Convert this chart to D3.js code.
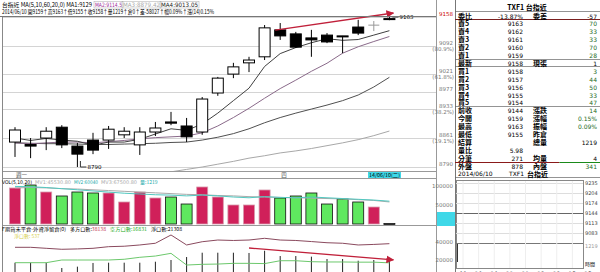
<!DOCTYPE html>
<html>
<head>
<meta charset="utf-8">
<script src="https://cdn.jsdelivr.net/npm/d3@7"></script>
<style>
  body { margin: 0; background: #fff; }
  svg { display: block; }
</style>
</head>
<body>
<div id="chart"></div>
<script>
// daily bars, TXF1 2014/05/06 - 2014/06/10
const dates = ['05/06','05/07','05/08','05/09','05/12','05/13','05/14','05/15','05/16','05/19',
  '05/20','05/21','05/22','05/23','05/26','05/27','05/28','05/29','05/30','06/03',
  '06/04','06/05','06/06','06/09','06/10'];
const open  = [8852,8846,8862,8889,8842,8857,8857,8870,8845,8877,8902,8892,8877,8974,9021,9049,9064,9131,9121,9111,9118,9116,9138,9144,9159];
const high  = [8889,8862,8889,8894,8850,8875,8892,8889,8889,8902,8927,8912,8964,9014,9049,9064,9143,9148,9126,9131,9123,9116,9156,9153,9163];
const low   = [8815,8812,8832,8837,8790,8822,8835,8862,8820,8867,8894,8852,8870,8967,9011,9026,9056,9106,9086,9064,9098,9073,9118,9128,9155];
const close = [8882,8842,8879,8845,8822,8832,8884,8879,8877,8887,8899,8865,8959,9011,9039,9056,9136,9116,9088,9106,9101,9115,9123,9144,9158];

const ma5  = [8862,8856,8861,8857,8854,8844,8852,8852,8859,8872,8885,8881,8897,8924,8955,8986,9040,9072,9087,9099,9109,9105,9107,9118,9129];
const ma10 = [8850,8848,8850,8852,8852,8850,8853,8856,8860,8863,8865,8867,8875,8892,8913,8936,8961,8985,9006,9028,9048,9073,9089,9102,9114.5];
const ma20 = [8850,8849,8848,8848,8847,8846,8846,8847,8848,8849,8851,8852,8857,8864,8873,8885,8900,8913,8924,8934,8944,8955,8969,8989,9013.05];
const ma60 = [8750,8752,8754,8756,8758,8760,8763,8766,8769,8773,8778,8784,8790,8797,8804,8812,8818,8825,8830,8836,8843,8850,8858,8868,8879.42];

const volume = [94700,102600,84200,73700,84200,81600,81600,57900,84200,68400,71000,52600,97400,71000,50000,50000,89500,68400,73700,81600,52600,65800,57900,44700,1219];
const volMa1 = [99000,98000,96000,93000,90000,87000,84000,81000,79000,77000,76000,74000,76000,74000,71000,69000,72000,70000,69000,71000,69000,67000,65000,63000,60000];
const volMa2 = [95000,96000,95000,93000,92000,90000,88000,86000,84000,82000,80000,78000,77000,75000,74000,72000,71000,70000,69000,68000,67000,66000,64000,62000,58000];

// 外資期貨未平倉
const longOI  = [34100,34100,33000,31900,32300,33000,34800,35300,36700,38600,47800,36700,40300,42200,41700,42200,44100,42200,41700,40500,39200,38600,36700,37300,38138];
const shortOI = [17000,17000,17000,20000,20000,20000,20000,20800,23000,24400,27400,14400,15200,15500,16300,16300,16000,19200,19200,18100,17800,17800,17600,17600,16831];
const netOI   = [17000,17000,17000,11100,12600,16700,17000,17000,17000,18100,20000,23300,28100,28100,28100,27800,30300,24400,24400,23700,21100,21100,19200,20000,21308];

// golden section levels on the price axis
const fibLevels = [9163, 9092, 9021, 8977, 8933, 8861, 8790];
const fibNames  = ['', '(80.9%)', '(61.8%)', '', '(38.2%)', '(19.1%)', ''];

// quote board
const rowLeft  = ['委比','賣5','賣4','賣3','賣2','賣1','最新','買1','買2','買3','買4','買5','前收','今開','最高','最低','結算','量比','分筆','外盤'];
const rowVal   = ['-13.87%','9163','9162','9161','9160','9159','9158','9158','9157','9156','9155','9154','9144','9159','9163','9155','','5.98','271','878'];
const rowLeft2 = ['委差','','','','','','現張','','','','','','漲跌','漲幅','振幅','昨倉','總量','','均量','內盤'];
const rowVal2  = ['-57','70','33','33','70','28','1','3','44','50','33','47','14','0.15%','0.09%','','1219','','4','341'];

// intraday mini chart
const miniPrice = [9235, 9204, 9174, 9144, 9113, 9083];
const miniTimes = ['09','10','10','11','11','12','12','13','13'];

const W = 600, H = 272;
const svg = d3.select('#chart').append('svg')
  .attr('width', W).attr('height', H)
  .style('font-family', '"DejaVu Sans", sans-serif');

const CJK = '"Noto Sans CJK TC", sans-serif';
const plotL = 3, plotR = 436;

const x = d3.scaleBand().domain(dates).range([7.2, 397.2]);
const cx = d => x(d) + x.bandwidth() / 2;
const bw = 11;

// ---------- main price panel ----------
const y = d3.scaleLinear().domain([8790, 9163]).range([167, 17]);

const defs = svg.append('defs');
defs.append('clipPath').attr('id', 'clipMain')
  .append('rect').attr('x', plotL).attr('y', 15).attr('width', plotR - plotL).attr('height', 156);

// frame lines
svg.append('line').attr('x1', plotL - 0.5).attr('x2', plotL - 0.5).attr('y1', 16).attr('y2', H).attr('stroke', '#888');
svg.append('line').attr('x1', plotR + 0.5).attr('x2', plotR + 0.5).attr('y1', 0).attr('y2', H).attr('stroke', '#999');

svg.append('g').selectAll('line').data(fibLevels).join('line')
  .attr('x1', plotL).attr('x2', plotR)
  .attr('y1', d => Math.round(y(d)) + 0.5).attr('y2', d => Math.round(y(d)) + 0.5)
  .attr('stroke', '#d4d4d4');

const axisLab = svg.append('g').style('font-size', '5.5px').attr('fill', '#777').attr('text-anchor', 'end');
fibLevels.forEach((v, i) => {
  if (i === 0) return;
  axisLab.append('text').attr('x', 453).attr('y', y(v) - 1).text(v);
  if (fibNames[i]) axisLab.append('text').attr('x', 454).attr('y', y(v) + 5).text(fibNames[i]);
});
axisLab.append('text').attr('x', 453).attr('y', 16).attr('fill', '#c00').text(close[24]);

const mg = svg.append('g').attr('clip-path', 'url(#clipMain)');
const maLine = arr => d3.line().x((d, i) => cx(dates[i])).y(d => y(d))(arr);
mg.append('path').attr('d', maLine(ma60)).attr('fill', 'none').attr('stroke', '#a8a8a8').attr('stroke-width', 1);
mg.append('path').attr('d', maLine(ma20)).attr('fill', 'none').attr('stroke', '#505050').attr('stroke-width', 1);
mg.append('path').attr('d', maLine(ma10)).attr('fill', 'none').attr('stroke', '#8a6a8a').attr('stroke-width', 1);
mg.append('path').attr('d', maLine(ma5)).attr('fill', 'none').attr('stroke', '#404040').attr('stroke-width', 1);

const candles = mg.selectAll('g.candle').data(dates).join('g').attr('class', 'candle');
candles.each(function (d, i) {
  const g = d3.select(this);
  const o = open[i], c = close[i];
  const col = c === o ? '#999' : '#000';
  g.append('line').attr('x1', cx(d)).attr('x2', cx(d)).attr('y1', y(high[i])).attr('y2', y(low[i]))
    .attr('stroke', col).attr('stroke-width', 1);
  const top = y(Math.max(o, c)), bot = y(Math.min(o, c));
  g.append('rect').attr('x', cx(d) - bw / 2).attr('width', bw)
    .attr('y', top).attr('height', Math.max(bot - top, 1))
    .attr('fill', c > o ? '#fff' : col).attr('stroke', col).attr('stroke-width', c === o ? 0 : 1);
});

// high / low markers
const iLow = low.indexOf(d3.min(low)), iHigh = high.lastIndexOf(d3.max(high));
svg.append('path').attr('d', `M${cx(dates[iLow]) + 3},${y(low[iLow]) - 6}V${y(low[iLow])}H${cx(dates[iLow]) + 9}`)
  .attr('fill', 'none').attr('stroke', '#333');
svg.append('text').attr('x', cx(dates[iLow]) + 10).attr('y', y(low[iLow]) + 2).style('font-size', '5.5px').text(low[iLow]);
svg.append('line').attr('x1', cx(dates[iHigh]) + 3).attr('x2', cx(dates[iHigh]) + 9)
  .attr('y1', y(high[iHigh])).attr('y2', y(high[iHigh])).attr('stroke', '#333');
svg.append('text').attr('x', cx(dates[iHigh]) + 10).attr('y', y(high[iHigh]) + 2).style('font-size', '5.5px').text(high[iHigh]);

// red annotation arrows
defs.append('marker').attr('id', 'arr').attr('viewBox', '0 0 10 10').attr('refX', 9).attr('refY', 5)
  .attr('markerWidth', 6).attr('markerHeight', 6).attr('orient', 'auto')
  .append('path').attr('d', 'M0,0L10,5L0,10z').attr('fill', '#c0203a');
svg.append('line').attr('x1', cx(dates[17]) - 5).attr('y1', y(high[17]) + 7)
  .attr('x2', cx(dates[24]) + 4).attr('y2', y(9163) - 4)
  .attr('stroke', '#c0203a').attr('stroke-width', 1.3).attr('marker-end', 'url(#arr)');

// headers
const hdr = svg.append('g').style('font-size', '6px');
hdr.append('text').attr('x', 2).attr('y', 7).style('font-family', CJK)
  .attr('textLength', 90).attr('lengthAdjust', 'spacingAndGlyphs').text('台指近 MA(5,10,60,20,0) MA1:9129');
[[95, 27, '#a0309a', 'MA2:9114.5'], [123, 37, '#aaa', 'MA3:8879.42'], [161, 37, '#222', 'MA4:9013.05']].forEach(b => {
  hdr.append('rect').attr('x', b[0] - 1).attr('y', 1.5).attr('width', b[1] + 2).attr('height', 6.5)
    .attr('fill', 'none').attr('stroke', '#aaa').attr('stroke-width', 0.5);
  hdr.append('text').attr('x', b[0]).attr('y', 7).attr('fill', b[2])
    .attr('textLength', b[1]).attr('lengthAdjust', 'spacingAndGlyphs').text(b[3]);
});
hdr.append('text').attr('x', 2).attr('y', 14).style('font-family', CJK)
  .attr('textLength', 212).attr('lengthAdjust', 'spacingAndGlyphs')
  .text('2014/06/10 開9159↑高9163↑低9155↑收9158↑量1219↑倉0↑差-58027↑幅0.09%↑漲(14)0.15%');
svg.append('line').attr('x1', 0).attr('x2', plotR).attr('y1', 16.5).attr('y2', 16.5).attr('stroke', '#777');

// date strip
svg.append('line').attr('x1', plotL).attr('x2', plotR).attr('y1', 171.5).attr('y2', 171.5).attr('stroke', '#999');
svg.append('line').attr('x1', plotL).attr('x2', plotR).attr('y1', 178.5).attr('y2', 178.5).attr('stroke', '#999');
svg.append('text').attr('x', 16).attr('y', 177).style('font-size', '5.5px').style('font-family', CJK).attr('fill', '#555').text('週一');
svg.append('text').attr('x', cx(dates[17]) + 1).attr('y', 177).style('font-size', '5.5px').style('font-family', CJK).attr('fill', '#555').text('四');
svg.append('rect').attr('x', 368).attr('y', 172).attr('width', 33).attr('height', 6).attr('fill', '#3fd8e8');
svg.append('text').attr('x', 369).attr('y', 177.3).style('font-size', '5px').style('font-family', CJK)
  .attr('textLength', 31).attr('lengthAdjust', 'spacingAndGlyphs').text('14/06/10(二)');

// ---------- volume panel ----------
const yv = d3.scaleLinear().domain([0, 100000]).range([224, 186]);
const vh = svg.append('g').style('font-size', '5px');
vh.append('text').attr('x', 2).attr('y', 184).attr('textLength', 30).attr('lengthAdjust', 'spacingAndGlyphs').text('VOL(5,10,20)');
vh.append('text').attr('x', 35).attr('y', 184).attr('fill', '#aaa').attr('textLength', 36).attr('lengthAdjust', 'spacingAndGlyphs').text('MV1:45530.80');
vh.append('text').attr('x', 74).attr('y', 184).attr('fill', '#2aa').attr('textLength', 24).attr('lengthAdjust', 'spacingAndGlyphs').text('MV2:60040');
vh.append('text').attr('x', 101).attr('y', 184).attr('fill', '#aaa').attr('textLength', 36).attr('lengthAdjust', 'spacingAndGlyphs').text('MV3:67500.80');
vh.append('text').attr('x', 140).attr('y', 184).style('font-family', CJK).attr('fill', '#2aa').text('量:1219');

svg.append('g').selectAll('rect').data(dates).join('rect')
  .attr('x', d => cx(d) - bw / 2).attr('width', bw)
  .attr('y', (d, i) => yv(volume[i])).attr('height', (d, i) => Math.max(yv(0) - yv(volume[i]), 1))
  .attr('fill', (d, i) => i === 24 ? '#555' : (close[i] >= open[i] ? '#d0205a' : '#5fe85f'))
  .attr('stroke', (d, i) => close[i] >= open[i] ? '#d89aac' : '#111')
  .attr('stroke-width', 0.8);
const vLine = arr => d3.line().x((d, i) => cx(dates[i])).y(d => yv(d))(arr);
svg.append('path').attr('d', vLine(volMa2)).attr('fill', 'none').attr('stroke', '#aaa');
svg.append('path').attr('d', vLine(volMa1)).attr('fill', 'none').attr('stroke', '#52c8c0');
svg.append('line').attr('x1', plotL).attr('x2', plotR).attr('y1', 225.5).attr('y2', 225.5).attr('stroke', '#999');

const vAx = svg.append('g').style('font-size', '5.5px').attr('fill', '#777').attr('text-anchor', 'end');
[100000, 50000].forEach(v => vAx.append('text').attr('x', 453).attr('y', yv(v) + 2).text(v));
svg.append('rect').attr('x', 437).attr('y', 212).attr('width', 18).attr('height', 14).attr('fill', '#3fd8e8');
vAx.append('text').attr('x', 454).attr('y', 218).attr('fill', '#000').style('font-size', '5px').text('12994');
vAx.append('text').attr('x', 454).attr('y', 225).attr('fill', '#000').style('font-size', '5px')
  .attr('textLength', 16).attr('lengthAdjust', 'spacingAndGlyphs').text('12221.27');

// ---------- 外資未平倉 panel ----------
const yo = d3.scaleLinear().domain([0, 40000]).range([278, 242]);
defs.append('clipPath').attr('id', 'clipOI')
  .append('rect').attr('x', plotL).attr('y', 226).attr('width', plotR - plotL).attr('height', 46);
const og = svg.append('g').attr('clip-path', 'url(#clipOI)');
og.selectAll('line').data(dates).join('line')
  .attr('x1', d => cx(d)).attr('x2', d => cx(d))
  .attr('y1', (d, i) => yo(netOI[i])).attr('y2', yo(0))
  .attr('stroke', '#222');
const oLine = arr => d3.line().x((d, i) => cx(dates[i])).y(d => yo(d))(arr);
og.append('path').attr('d', oLine(shortOI)).attr('fill', 'none').attr('stroke', '#6cc86c');
og.append('path').attr('d', oLine(longOI)).attr('fill', 'none').attr('stroke', '#8a4a5e');
svg.append('line').attr('x1', cx(dates[15])).attr('y1', yo(longOI[15]) + 8)
  .attr('x2', cx(dates[24]) + 4).attr('y2', yo(shortOI[24]) - 3)
  .attr('stroke', '#c0203a').attr('stroke-width', 1.3).attr('marker-end', 'url(#arr)');

const oHdr = svg.append('g').style('font-size', '5px').style('font-family', CJK);
oHdr.append('text').attr('x', 2).attr('y', 231).attr('textLength', 64).attr('lengthAdjust', 'spacingAndGlyphs').text('F期貨未平倉-外資淨留倉(0)');
oHdr.append('text').attr('x', 70).attr('y', 231).attr('textLength', 36).attr('lengthAdjust', 'spacingAndGlyphs')
  .text('多方口數:').append('tspan').attr('fill', '#c03050').text('38138');
oHdr.append('text').attr('x', 110).attr('y', 231).attr('fill', '#2a2').attr('textLength', 37).attr('lengthAdjust', 'spacingAndGlyphs')
  .text('空方口數:16831');
oHdr.append('text').attr('x', 151).attr('y', 231).attr('textLength', 31).attr('lengthAdjust', 'spacingAndGlyphs').text('淨口數:21308');
oHdr.append('text').attr('x', 14).attr('y', 237.5).attr('fill', '#d8d050').text('淨口數: 537');
const oAx = svg.append('g').style('font-size', '5.5px').attr('fill', '#777').attr('text-anchor', 'end');
[40000, 20000].forEach(v => oAx.append('text').attr('x', 453).attr('y', yo(v) + 2).text(v));

// ---------- quote board ----------
const tb = svg.append('g');
const tx0 = 455, rowH = 7.9, row0 = 15.5;
tb.append('line').attr('x1', tx0 + 0.5).attr('x2', tx0 + 0.5).attr('y1', 0).attr('y2', H).attr('stroke', '#777');
tb.append('text').attr('x', 527).attr('y', 9.5).attr('text-anchor', 'middle')
  .style('font-size', '7px').style('font-family', CJK).style('font-weight', 'bold').text('TXF1 台指近');
[11.5, 59.5, 66.5, 106.5, 177.5].forEach(v =>
  tb.append('line').attr('x1', tx0).attr('x2', W).attr('y1', v).attr('y2', v).attr('stroke', '#666').attr('stroke-width', 0.7));
tb.append('line').attr('x1', tx0).attr('x2', W).attr('y1', 19.5).attr('y2', 19.5).attr('stroke', '#7a2020');
const ratioX = tx0 + (W - tx0) * 878 / (878 + 341);
tb.append('line').attr('x1', tx0).attr('x2', ratioX).attr('y1', 162.5).attr('y2', 162.5).attr('stroke', '#8a1a1a').attr('stroke-width', 1.2);
tb.append('line').attr('x1', ratioX).attr('x2', W).attr('y1', 162.5).attr('y2', 162.5).attr('stroke', '#1a8a1a').attr('stroke-width', 1.2);

rowLeft.forEach((lab, i) => {
  const yy = row0 + i * rowH + 3;
  tb.append('text').attr('x', 458).attr('y', yy).style('font-size', '7px').style('font-family', CJK)
    .style('font-weight', 'bold').text(lab);
  tb.append('text').attr('x', 523).attr('y', yy).attr('text-anchor', 'end').style('font-size', '6px')
    .text(rowVal[i]);
  if (rowLeft2[i]) tb.append('text').attr('x', 533).attr('y', yy).style('font-size', '7px').style('font-family', CJK)
    .style('font-weight', 'bold').text(rowLeft2[i]);
  tb.append('text').attr('x', 597).attr('y', yy).attr('text-anchor', 'end').style('font-size', '6px')
    .attr('fill', (i >= 1 && i <= 5) || (i >= 7 && i <= 15) || i === 19 ? '#1d6a1d' : '#000')
    .text(rowVal2[i]);
});
const dy0 = row0 + 20 * rowH + 2.5;
tb.append('text').attr('x', 458).attr('y', dy0).style('font-size', '6px').text('2014/06/10');
tb.append('text').attr('x', 509).attr('y', dy0).style('font-size', '6px').text('TXF1');
tb.append('text').attr('x', 527).attr('y', dy0 + 0.5).style('font-size', '7px').style('font-family', CJK).style('font-weight', 'bold').text('台指近');

// ---------- intraday mini chart ----------
const mx0 = 456, mx1 = 583;
const ym = d3.scaleLinear().domain([9083, 9235]).range([233, 183]);
const mini = svg.append('g');
mini.append('rect').attr('x', mx0 + 0.5).attr('y', 180.5).attr('width', mx1 - mx0).attr('height', 88).attr('fill', 'none').attr('stroke', '#888');
miniPrice.forEach(v => {
  mini.append('line').attr('x1', mx0).attr('x2', mx1).attr('y1', Math.round(ym(v)) + 0.5).attr('y2', Math.round(ym(v)) + 0.5)
    .attr('stroke', v === close[23] ? '#666' : '#ddd');
  mini.append('text').attr('x', 585).attr('y', ym(v) + 2).style('font-size', '5px').attr('fill', '#444').text(v);
});
mini.append('line').attr('x1', mx0).attr('x2', mx1).attr('y1', 243.5).attr('y2', 243.5).attr('stroke', '#777');
mini.append('text').attr('x', 585).attr('y', 248).style('font-size', '5px').attr('fill', '#999').text('1219');
mini.append('text').attr('x', 585).attr('y', 266).style('font-size', '5px').style('font-family', CJK).text('時間');
const mt = d3.scalePoint().domain(d3.range(miniTimes.length)).range([463, 588]);
miniTimes.forEach((t, i) => {
  mini.append('line').attr('x1', mt(i)).attr('x2', mt(i)).attr('y1', 181).attr('y2', 268).attr('stroke', i < 8 ? '#eee' : 'none');
  mini.append('text').attr('x', mt(i)).attr('y', 276).attr('text-anchor', 'middle').style('font-size', '6px').text(t);
});
mini.append('line').attr('x1', 457.5).attr('x2', 457.5).attr('y1', 244).attr('y2', 262).attr('stroke', '#333');
</script>
</body>
</html>
